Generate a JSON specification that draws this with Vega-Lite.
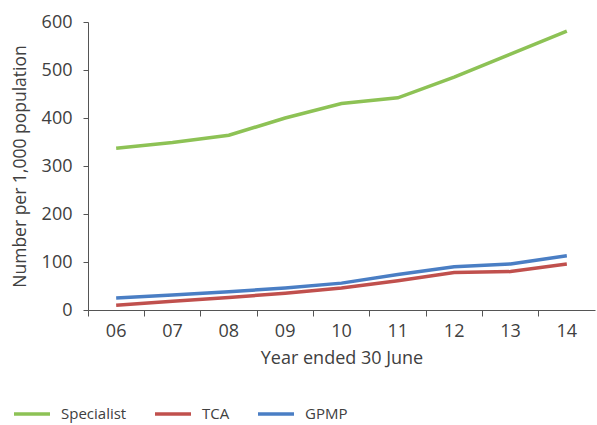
{
  "$schema": "https://vega.github.io/schema/vega-lite/v6.json",
  "width": 507,
  "height": 288,
  "autosize": {"type": "none"},
  "padding": {"left": 88, "top": 22, "right": 2, "bottom": 115},
  "background": "white",
  "config": {
    "font": "Open Sans",
    "view": {"stroke": null},
    "axis": {"grid": false, "domainColor": "#555555", "tickColor": "#555555", "labelColor": "#404040", "titleColor": "#404040", "labelFont": "Open Sans", "titleFont": "Open Sans", "titleFontWeight": "normal"}
  },
  "data": {
    "values": [
      {"year": "06", "series": "Specialist", "value": 337},
      {"year": "07", "series": "Specialist", "value": 349},
      {"year": "08", "series": "Specialist", "value": 364},
      {"year": "09", "series": "Specialist", "value": 400},
      {"year": "10", "series": "Specialist", "value": 430},
      {"year": "11", "series": "Specialist", "value": 442},
      {"year": "12", "series": "Specialist", "value": 485},
      {"year": "13", "series": "Specialist", "value": 533},
      {"year": "14", "series": "Specialist", "value": 581},
      {"year": "06", "series": "TCA", "value": 10},
      {"year": "07", "series": "TCA", "value": 18},
      {"year": "08", "series": "TCA", "value": 26},
      {"year": "09", "series": "TCA", "value": 35},
      {"year": "10", "series": "TCA", "value": 46},
      {"year": "11", "series": "TCA", "value": 61},
      {"year": "12", "series": "TCA", "value": 78},
      {"year": "13", "series": "TCA", "value": 80},
      {"year": "14", "series": "TCA", "value": 96},
      {"year": "06", "series": "GPMP", "value": 25},
      {"year": "07", "series": "GPMP", "value": 31},
      {"year": "08", "series": "GPMP", "value": 38},
      {"year": "09", "series": "GPMP", "value": 46},
      {"year": "10", "series": "GPMP", "value": 56},
      {"year": "11", "series": "GPMP", "value": 74},
      {"year": "12", "series": "GPMP", "value": 90},
      {"year": "13", "series": "GPMP", "value": 96},
      {"year": "14", "series": "GPMP", "value": 113}
    ]
  },
  "mark": {"type": "line", "strokeWidth": 3.5},
  "encoding": {
    "x": {
      "field": "year", "type": "ordinal",
      "scale": {"type": "band", "paddingInner": 0, "paddingOuter": 0},
      "axis": {"title": "Year ended 30 June", "labelAngle": 0, "bandPosition": 0, "labelFontSize": 18, "titleFontSize": 18, "tickSize": 6, "labelPadding": 6, "titlePadding": 9}
    },
    "y": {
      "field": "value", "type": "quantitative",
      "scale": {"domain": [0, 600]},
      "axis": {"title": "Number per 1,000 population", "values": [0, 100, 200, 300, 400, 500, 600], "labelFontSize": 18, "titleFontSize": 17.5, "tickSize": 5, "labelPadding": 11, "titlePadding": 12}
    },
    "color": {
      "field": "series", "type": "nominal",
      "scale": {"domain": ["Specialist", "TCA", "GPMP"], "range": ["#8DC255", "#C0504D", "#4A7EC4"]},
      "legend": {"title": null, "orient": "none", "direction": "horizontal", "legendX": -76, "legendY": 372, "symbolType": "M-1,0H1", "symbolStrokeWidth": 3.5, "symbolSize": 1296, "labelFontSize": 15, "labelColor": "#404040", "columnPadding": 21, "labelOffset": 9}
    }
  }
}
